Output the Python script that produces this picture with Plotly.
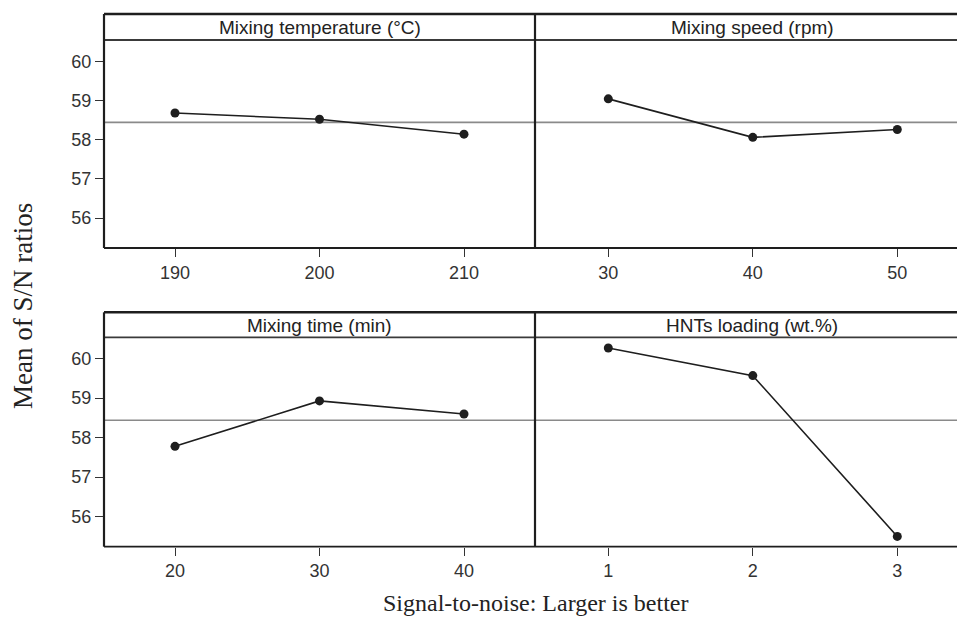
import plotly.graph_objects as go

# Main effects of each factor on the mean S/N ratio
temp_levels = [190, 200, 210]
temp_sn = [58.68, 58.52, 58.14]

speed_levels = [30, 40, 50]
speed_sn = [59.04, 58.06, 58.26]

time_levels = [20, 30, 40]
time_sn = [57.78, 58.93, 58.60]

hnt_levels = [1, 2, 3]
hnt_sn = [60.27, 59.57, 55.50]

panel_titles = ["Mixing temperature (°C)", "Mixing speed (rpm)",
                "Mixing time (min)", "HNTs loading (wt.%)"]
y_ticks = [56, 57, 58, 59, 60]
grand_mean = 58.44

W, H = 957, 617


def px(x):
    return x / W


def py(y):
    return 1 - y / H


# panel geometry in pixels
x_left = (104, 535)
x_right = (535, 957)
rows = [  # (header top, header bottom / plot top, plot bottom)
    (14, 40, 248),
    (312.3, 337.3, 546.7),
]
y_range = [55.24, 60.54]

DARK = "#1e1e1e"
TICK = "#333333"

fig = go.Figure()

series = [
    (temp_levels, temp_sn),
    (speed_levels, speed_sn),
    (time_levels, time_sn),
    (hnt_levels, hnt_sn),
]
for i, (xs, ys) in enumerate(series, start=1):
    fig.add_trace(go.Scatter(
        x=xs, y=ys, mode="lines+markers",
        line=dict(color=DARK, width=1.6),
        marker=dict(color=DARK, size=9),
        xaxis=f"x{i if i > 1 else ''}", yaxis=f"y{i if i > 1 else ''}",
        showlegend=False, hoverinfo="x+y",
    ))


def x_range(levels, left_px, width_px):
    step = levels[1] - levels[0]
    per_unit = 144.5 / step
    lo = levels[0] - left_px / per_unit
    return [lo, lo + width_px / per_unit]


layout = dict(
    width=W, height=H, margin=dict(l=0, r=0, t=0, b=0),
    paper_bgcolor="white", plot_bgcolor="white",
)

specs = [
    (1, temp_levels, x_left, rows[0], True),
    (2, speed_levels, x_right, rows[0], False),
    (3, time_levels, x_left, rows[1], True),
    (4, hnt_levels, x_right, rows[1], False),
]
for idx, levels, (xa, xb), (ht, pt, pb), show_y in specs:
    sfx = "" if idx == 1 else str(idx)
    off = 175 - 104 if show_y else 608.3 - 535
    layout[f"xaxis{sfx}"] = dict(
        domain=[px(xa), px(xb)], anchor=f"y{sfx}",
        range=x_range(levels, off, xb - xa),
        tickvals=levels, ticktext=[str(v) for v in levels],
        ticks="outside", ticklen=8, tickwidth=1.3, tickcolor=TICK,
        showgrid=False, zeroline=False, showline=False,
        tickfont=dict(family="Liberation Sans, Arial", size=18, color=TICK),
        fixedrange=True,
    )
    layout[f"yaxis{sfx}"] = dict(
        domain=[py(pb), py(pt)], anchor=f"x{sfx}",
        range=y_range, tickvals=y_ticks,
        showticklabels=show_y,
        ticks="outside" if show_y else "", ticklen=8, tickwidth=1.3,
        tickcolor=TICK,
        showgrid=False, zeroline=False, showline=False,
        tickfont=dict(family="Liberation Sans, Arial", size=18, color=TICK),
        fixedrange=True,
    )

fig.update_layout(**layout)

shapes = []
annotations = []

# grand mean reference line in each panel
for idx in range(1, 5):
    sfx = "" if idx == 1 else str(idx)
    shapes.append(dict(
        type="line", xref=f"x{sfx} domain", yref=f"y{sfx}",
        x0=0, x1=1, y0=grand_mean, y1=grand_mean,
        line=dict(color="#8a8a8a", width=1.6), layer="below",
    ))

# panel frames, header strips and the divider between columns
for ht, pt, pb in rows:
    x0, xm, x1 = px(x_left[0]), px(x_left[1]), 1.02
    shapes += [
        dict(type="line", xref="paper", yref="paper", x0=x0, x1=x1,
             y0=py(ht), y1=py(ht), line=dict(color=DARK, width=2.6)),
        dict(type="line", xref="paper", yref="paper", x0=x0, x1=x1,
             y0=py(pt), y1=py(pt), line=dict(color="#3a3a3a", width=1.8)),
        dict(type="line", xref="paper", yref="paper", x0=x0, x1=x1,
             y0=py(pb), y1=py(pb), line=dict(color=DARK, width=1.8)),
        dict(type="line", xref="paper", yref="paper", x0=x0, x1=x0,
             y0=py(pb), y1=py(ht), line=dict(color=DARK, width=2.2)),
        dict(type="line", xref="paper", yref="paper", x0=xm, x1=xm,
             y0=py(pb), y1=py(ht), line=dict(color=DARK, width=2.2)),
    ]

# header labels
header_pos = [
    ((x_left[0] + x_left[1]) / 2, rows[0]),
    ((535 + 969) / 2, rows[0]),
    ((x_left[0] + x_left[1]) / 2, rows[1]),
    ((535 + 969) / 2, rows[1]),
]
for title, (cx, (ht, pt, pb)) in zip(panel_titles, header_pos):
    annotations.append(dict(
        text=title, xref="paper", yref="paper",
        x=px(cx), y=py((ht + pt) / 2 + 0.5), xanchor="center", yanchor="middle",
        showarrow=False,
        font=dict(family="Liberation Sans, Arial", size=19, color="#222222"),
    ))

annotations.append(dict(
    text="Mean of S/N ratios", xref="paper", yref="paper",
    x=px(23), y=py(306), xanchor="center", yanchor="middle",
    textangle=-90, showarrow=False,
    font=dict(family="Liberation Serif, Times New Roman", size=27, color="#222222"),
))
annotations.append(dict(
    text="Signal-to-noise: Larger is better", xref="paper", yref="paper",
    x=px(535), y=py(603), xanchor="center", yanchor="middle",
    showarrow=False,
    font=dict(family="Liberation Serif, Times New Roman", size=24, color="#222222"),
))

fig.update_layout(shapes=shapes, annotations=annotations)

fig.write_html("out.html")
